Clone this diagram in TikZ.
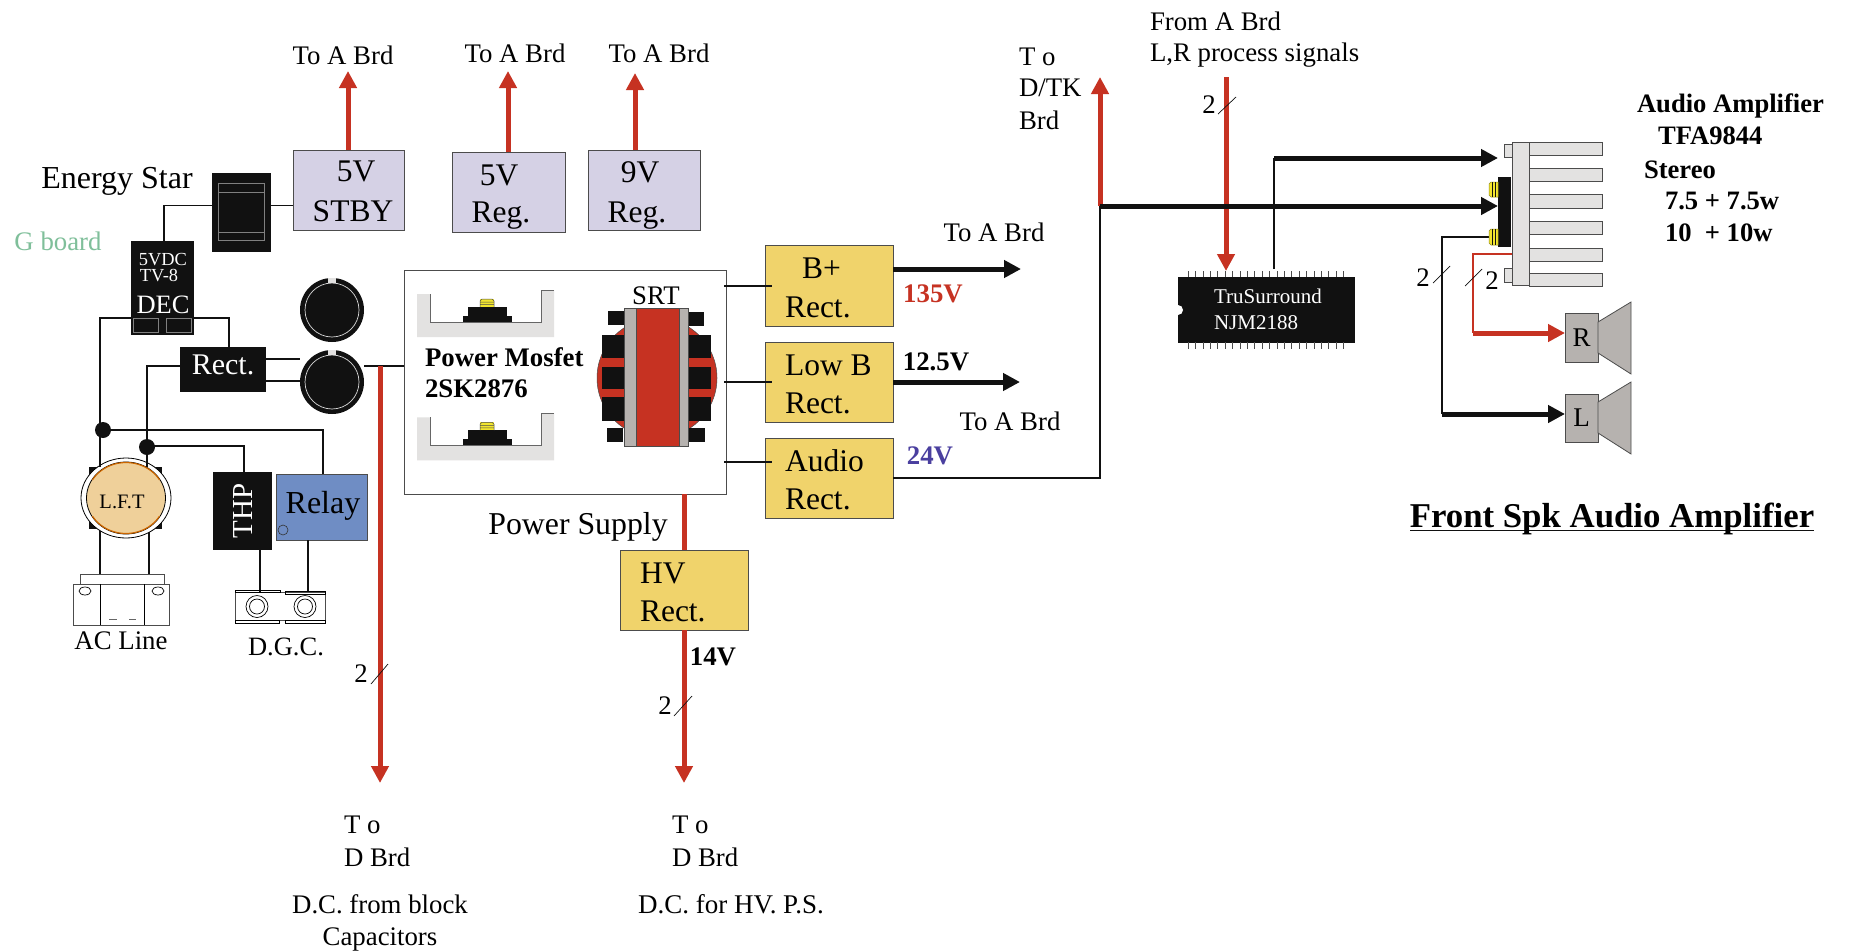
\documentclass[tikz,border=0pt]{standalone}
\usepackage{fontspec}
\setmainfont{Liberation Serif}
\usetikzlibrary{arrows.meta,calc,shapes.geometric}
\definecolor{ink}{HTML}{111111}
\definecolor{redw}{HTML}{C63222}
\definecolor{lilac}{HTML}{D5D1E5}
\definecolor{gold}{HTML}{F0D36B}
\definecolor{bluebox}{HTML}{6F8DC4}
\definecolor{graybox}{HTML}{B6B2AF}
\definecolor{lightg}{HTML}{E3E2E1}
\definecolor{tan}{HTML}{EFD09A}
\definecolor{gboard}{HTML}{7FBF9A}
\definecolor{vio}{HTML}{4A3F9F}
\definecolor{yel}{HTML}{F2E52E}
\tikzset{
  lbl/.style={inner sep=0pt,outer sep=0pt,font=\fontsize{#1}{#1}\selectfont},
  bld/.style={inner sep=0pt,outer sep=0pt,font=\bfseries\fontsize{#1}{#1}\selectfont},
  wht/.style={inner sep=0pt,outer sep=0pt,text=white,font=\fontsize{#1}{#1}\selectfont},
  wire/.style={draw=ink,line width=1.15pt},
  thinred/.style={draw=redw,line width=1.15pt},
  redthick/.style={draw=redw,line width=5pt},
  redarrow/.style={draw=redw,line width=5pt,-{Triangle[length=17pt,width=17pt,fill=redw]}},
  blkarrow/.style={draw=ink,line width=5pt,-{Triangle[length=17pt,width=17pt,fill=ink]}},
  slash/.style={draw=ink,line width=0.7pt},
  hbox/.style={draw=black!70,line width=1pt,fill=#1,inner sep=0pt,outer sep=0pt},
  blk/.style={fill=ink,draw=ink,inner sep=0pt,outer sep=0pt},
  jdot/.style={circle,fill=ink,minimum size=16pt,inner sep=0pt,outer sep=0pt},
  partl/.style={draw=black!70,line width=0.8pt,fill=lightg},
}
% \bx{name}{x1}{y1}{x2}{y2}{style}
\newcommand{\bx}[6]{\node[#6,minimum width={(#4)-(#2)},minimum height={(#5)-(#3)}] (#1) at ({((#2)+(#4))/2},{((#3)+(#5))/2}) {};}
\newcommand{\mosfetpart}{%
  \fill[lightg] (417,294) -- (430,294) -- (430,322) -- (541,322) -- (541,290) -- (554,290) -- (554,337) -- (417,337) -- cycle;
  \draw[black!60,line width=0.6pt] (430,294) -- (430,322) -- (541,322) -- (541,290) -- (554,290);
  \fill[ink] (463,316) rectangle (512,322);
  \fill[ink] (468,307) rectangle (507,316);
  \fill[yel] (480,299) rectangle (494,307);
  \draw[black!70,line width=0.5pt] (480,307) -- (480,301) -- (482,299) -- (492,299) -- (494,301) -- (494,307) (480,302) -- (494,302) (480,304.5) -- (494,304.5);
}
\begin{document}
\begin{tikzpicture}[x=1pt,y=-1pt]
\path[fill=white] (0,0) rectangle (1849,951);
\useasboundingbox (0,0) rectangle (1849,951);

% ---------- boxes placed first so connectors can name them
\bx{stby}{293}{150}{404}{230}{hbox=lilac}
\bx{regfive}{452}{152}{565}{232}{hbox=lilac}
\bx{regnine}{588}{150}{700}{230}{hbox=lilac}
\bx{estar}{212}{173}{270}{251}{blk}
\bx{dec}{131}{241}{193}{334}{blk}
\bx{rect}{180}{347}{265}{391}{blk}
\bx{thp}{213}{472}{271}{549}{blk}
\bx{relay}{276}{474}{367}{540}{hbox=bluebox}
\bx{psu}{404}{270}{726}{494}{hbox=white}
\bx{bplus}{765}{245}{893}{326}{hbox=gold}
\bx{lowb}{765}{342}{893}{422}{hbox=gold}
\bx{audio}{765}{438}{893}{518}{hbox=gold}
\bx{hv}{620}{550}{748}{630}{hbox=gold}
\bx{ic}{1178}{277}{1354}{342}{blk}

\node[circle,fill=ink,minimum size=64pt,inner sep=0pt,outer sep=0pt] (capa) at (332,310) {};
\node[circle,fill=ink,minimum size=64pt,inner sep=0pt,outer sep=0pt] (capb) at (332,382) {};
\node[jdot] (ja) at (103,430) {};
\node[jdot] (jb) at (147,447) {};
\node[ellipse,inner sep=0pt,outer sep=0pt,minimum width=90pt,minimum height=80pt] (lft) at (126,498) {};

\bx{acbar}{80}{574}{164}{584}{hbox=white}
\bx{acbox}{73}{584}{169}{625}{hbox=white}
\bx{dgc}{235}{592}{325}{620}{hbox=white}
\bx{spkr}{1565}{313}{1598}{362}{hbox=graybox}
\bx{spkl}{1565}{394}{1598}{442}{hbox=graybox}

% ---------- named ends and bends
\coordinate (tipa) at (348,71);
\coordinate (tipb) at (508,71);
\coordinate (tipc) at (635,73);
\coordinate (decl) at (100,318);
\coordinate (decr) at (229,318);
\coordinate (rectl) at (147,366);
\coordinate (relayt) at (323,430);
\coordinate (thpt) at (244,446);
\coordinate (esl) at (164,205.5);
\coordinate (tapa) at (380,366);
\coordinate (tapaend) at (380,783);
\coordinate (hvtop) at (684,494);
\coordinate (hvend) at (684,783);
\coordinate (bend) at (1021,269);
\coordinate (lend) at (1020,382);
\coordinate (audr) at (1100,478);
\coordinate (dtk) at (1100,206);
\coordinate (dtktip) at (1100,77);
\coordinate (amp) at (1498,206);
\coordinate (amptop) at (1498,158);
\coordinate (icout) at (1274,269);
\coordinate (ictop) at (1274,158);
\coordinate (srcred) at (1226,77);
\coordinate (icin) at (1226,271);
\coordinate (bl) at (1490,237);
\coordinate (blb) at (1442,237);
\coordinate (blc) at (1442,414);
\coordinate (rl) at (1512,254);
\coordinate (rlb) at (1473,254);
\coordinate (rlc) at (1473,333);
\coordinate (ula) at (1410,530);
\coordinate (ulb) at (1814,530);

% ---------- wires (thin)
\draw[wire] (stby.west |- esl) -- (esl -| estar.east);
\draw[wire] (estar.west |- esl) -- (esl) -- (esl |- dec.north);
\draw[wire] (lft.north -| decl) -- (decl) -- (decl -| dec.west);
\draw[wire] (decr -| dec.east) -- (decr) -- (decr |- rect.north);
\draw[wire] (lft.north -| rectl) -- (rectl) -- (rectl -| rect.west);
\draw[wire] (ja) -- (ja -| relayt) -- (relayt |- relay.north);
\draw[wire] (jb |- thpt) -- (thpt) -- (thpt |- thp.north);
\draw[wire] (rect.east |- 0,359) -- (capb.west |- 0,359);
\draw[wire] (rect.east |- 0,381) -- (capb.west |- 0,381);
\draw[wire] (capb.east |- tapa) -- (tapa -| psu.west);
\draw[wire] (100,510) -- (100,574);
\draw[wire] (149,510) -- (149,574);
\draw[wire] (260,549) -- (260,592);
\draw[wire] (308,540) -- (308,592);
\draw[wire] (724,286) -- (772,286);
\draw[wire] (724,382) -- (772,382);
\draw[wire] (724,462) -- (772,462);
\draw[wire] (audio.east |- audr) -- (audr) -- (dtk);
\draw[wire] (icout) -- (ictop);
\draw[wire] (bl) -- (blb) -- (blc);
\draw[thinred] (rl) -- (rlb) -- (rlc);
\draw[draw=ink,line width=1pt] (ula) -- (ulb);

% ---------- thick arrows
\draw[redarrow] (tipa |- stby.north) -- (tipa);
\draw[redarrow] (tipb |- regfive.north) -- (tipb);
\draw[redarrow] (tipc |- regnine.north) -- (tipc);
\draw[redarrow] (tapa) -- (tapaend);
\draw[redthick] (hvtop) -- (hvtop |- hv.north);
\draw[redarrow] (hvtop |- hv.south) -- (hvend);
\draw[redarrow] (dtk) -- (dtktip);
\draw[redarrow] (srcred) -- (icin);
\draw[blkarrow] (bend -| bplus.east) -- (bend);
\draw[blkarrow] (lend -| lowb.east) -- (lend);
\draw[blkarrow] (dtk) -- (amp);
\draw[blkarrow] (ictop) -- (amptop);
\draw[blkarrow] (blc) -- (spkl.west |- blc);
\draw[redarrow] (rlc) -- (spkr.west |- rlc);

% ---------- slashes
\draw[slash] (371,684) -- (388,664);
\draw[slash] (674,716) -- (692,696);
\draw[slash] (1218,114) -- (1236,97);
\draw[slash] (1433,283) -- (1450,266);
\draw[slash] (1465,286) -- (1482,269);

% ---------- details: energy star block
\draw[black!50!white,line width=0.7pt] (218,183) rectangle (264,240) (218,192) -- (264,192) (218,232) -- (264,232);
% DEC inner
\draw[black!50!white,line width=0.7pt] (133,318) rectangle (158,332) (166,318) rectangle (191,332);
% capacitors
\draw[white!85!black,line width=0.7pt] (332,310) circle (27);
\draw[white!85!black,line width=0.7pt] (332,382) circle (27);
\fill[lightg] (328,278) rectangle (336,283);
\fill[lightg] (328,350) rectangle (336,355);
% LFT
\fill[ink] (89,467) rectangle (162,529);
\draw[black,line width=0.8pt,fill=white] (126,498) ellipse (45 and 40);
\draw[black,line width=0.8pt,fill=tan] (126,498) ellipse (39.5 and 36);
\begin{scope}
  \clip (80,450) rectangle (170,480) (80,516) rectangle (170,545);
  \draw[orange!80!black,line width=1.2pt] (126,498) ellipse (39 and 35.5);
\end{scope}
\draw[wire] (100,430) -- (100,467) (147,447) -- (147,467);
% AC block
\draw[black,line width=0.8pt] (100,584) -- (100,625) (144,584) -- (144,625);
\draw[black,line width=0.7pt] (85,591) ellipse (6 and 4) (158,591) ellipse (6 and 4);
\draw[black!60,line width=0.8pt] (109,619) -- (117,619) (129,619) -- (136,619);
% DGC block
\draw[black,line width=0.7pt] (235,590) rectangle (280,592) (285,591) rectangle (325,594) (235,620) rectangle (279,623) (285,620) rectangle (325,623);
\draw[black,line width=0.7pt] (257,606.5) circle (11) (257,606.5) circle (7.5) (305,606.5) circle (11) (305,606.5) circle (7.5);
% relay hole
\draw[black!80,line width=0.6pt] (283,530) circle (5);

% mosfets
\mosfetpart
\begin{scope}[yshift=-123.3pt]\mosfetpart\end{scope}

% transformer
\fill[redw,draw=black!70,line width=0.5pt] (657,378) circle (60);
\bx{core}{624}{308}{688}{446}{hbox=graybox}
\bx{coil}{636}{308}{679}{446}{hbox=redw}
\foreach \yy/\yz in {335/358,367/389,397/421}{
  \fill[ink] (602,\yy) rectangle (624,\yz);
  \fill[ink] (689,\yy) rectangle (711,\yz);
}
\fill[ink] (608,311) rectangle (624,325);
\fill[ink] (689,312) rectangle (704,326);
\fill[ink] (607,428) rectangle (623,442);
\fill[ink] (689,428) rectangle (705,442);

% IC pins and notch
\foreach \i in {0,...,21}{
  \draw[black!70,line width=0.6pt] ({1188+\i*7.4},271) -- ({1188+\i*7.4},277);
  \draw[black!70,line width=0.6pt] ({1188+\i*7.4},342) -- ({1188+\i*7.4},349);
}
\fill[white] (1178,310) circle (5);

% heat sink
\foreach \yy/\yz in {142/155,168/181,194/208,221/234,248/261,273/286}{
  \draw[partl] (1529,\yy) rectangle (1602,\yz);
}
\draw[partl] (1504,144) rectangle (1512,157);
\draw[partl] (1504,268) rectangle (1512,282);
\draw[partl] (1512,142) rectangle (1529,285);
\fill[ink] (1498,177) rectangle (1511,247);
\foreach \yy/\yz in {182/197,229/245}{
  \draw[yel!60!black,line width=0.5pt,fill=yel] (1498,\yy) -- (1491,\yy) -- (1489,{\yy+2}) -- (1489,{\yz-2}) -- (1491,\yz) -- (1498,\yz) -- cycle;
  \draw[ink,line width=0.4pt] (1492,\yy) -- (1492,\yz) (1495,\yy) -- (1495,\yz);
}
% speakers
\draw[black!70,line width=0.8pt,fill=graybox] (1598,322) -- (1631,302) -- (1631,374) -- (1598,353) -- cycle;
\draw[black!70,line width=0.8pt,fill=graybox] (1598,402) -- (1631,382) -- (1631,454) -- (1598,433) -- cycle;

% ---------- texts
\node[lbl=26.8] (t1) at (343,55) {To A Brd};
\node[lbl=26.8] (t2) at (515,53) {To A Brd};
\node[lbl=26.8] (t3) at (659,53) {To A Brd};
\node[lbl=31.5] (t4) at (356,171) {5V};
\node[lbl=31.5] (t5) at (353,211) {STBY};
\node[lbl=31.5] (t6) at (499,175) {5V};
\node[lbl=31.5] (t7) at (501,216) {Reg.};
\node[lbl=31.5] (t8) at (640,172) {9V};
\node[lbl=31.5] (t9) at (637,216) {Reg.};
\node[lbl=32] (t10) at (117,181) {Energy Star};
\node[lbl=26.8,text=gboard] (t11) at (58,241) {G board};
\node[wht=18.4] (t12) at (163,260) {5VDC};
\node[wht=18.4] (t13) at (159,276) {TV-8};
\node[wht=26.5] (t14) at (163,305) {DEC};
\node[wht=30] (t15) at (223,365) {Rect.};
\node[lbl=20.5] (t16) at (122,502) {L.F.T};
\node[wht=29,rotate=90] (t17) at (243,511) {THP};
\node[lbl=32] (t18) at (323,506) {Relay};
\node[lbl=26.8] (t19) at (121,641) {AC Line};
\node[lbl=26.5] (t20) at (286,647) {D.G.C.};
\node[lbl=31.8] (t21) at (578,527) {Power Supply};
\node[bld=26.8,anchor=west] (t22) at (425,357) {Power Mosfet};
\node[bld=26.8,anchor=west] (t23) at (425,389) {2SK2876};
\node[lbl=26.8] (t24) at (656,296) {SRT};
\node[lbl=31.5,anchor=west] (t25) at (802,268) {B+};
\node[lbl=31.5,anchor=west] (t26) at (785,307) {Rect.};
\node[lbl=31.5,anchor=west] (t27) at (785,365) {Low B};
\node[lbl=31.5,anchor=west] (t28) at (785,403) {Rect.};
\node[lbl=31.5,anchor=west] (t29) at (785,461) {Audio};
\node[lbl=31.5,anchor=west] (t30) at (785,499) {Rect.};
\node[lbl=31.5,anchor=west] (t31) at (640,573) {HV};
\node[lbl=31.5,anchor=west] (t32) at (640,611) {Rect.};
\node[bld=26.8,text=redw] (t33) at (933,294) {135V};
\node[bld=26.8] (t34) at (936,362) {12.5V};
\node[bld=26.8,text=vio] (t35) at (930,456) {24V};
\node[lbl=26.8] (t36) at (994,232) {To A Brd};
\node[lbl=26.8] (t37) at (1010,421) {To A Brd};
\node[bld=26.8] (t38) at (713,657) {14V};
\node[lbl=26.8] (t39) at (361,674) {2};
\node[lbl=26.8] (t40) at (665,706) {2};
\node[lbl=26.8] (t41) at (1209,105) {2};
\node[lbl=26.8] (t42) at (1423,278) {2};
\node[lbl=26.8] (t43) at (1492,281) {2};
\node[lbl=26.8,anchor=west] (t44) at (344,825) {T o};
\node[lbl=26.8,anchor=west] (t45) at (344,857) {D Brd};
\node[lbl=26.8,anchor=west] (t46) at (672,825) {T o};
\node[lbl=26.8,anchor=west] (t47) at (672,857) {D Brd};
\node[lbl=26.8] (t48) at (380,904) {D.C. from block};
\node[lbl=26.8] (t49) at (380,939) {Capacitors};
\node[lbl=27] (t50) at (731,904) {D.C. for HV. P.S.};
\node[lbl=26.8,anchor=west] (t51) at (1019,57) {T o};
\node[lbl=26.8,anchor=west] (t52) at (1019,88) {D/TK};
\node[lbl=26.8,anchor=west] (t53) at (1019,120) {Brd};
\node[lbl=26.8,anchor=west] (t54) at (1150,21) {From A Brd};
\node[lbl=26.8,anchor=west] (t55) at (1150,55) {L,R process signals};
\node[wht=21,anchor=west] (t56) at (1214,296) {TruSurround};
\node[wht=21,anchor=west] (t57) at (1214,323) {NJM2188};
\node[bld=26.6,anchor=west] (t58) at (1637,106) {Audio Amplifier};
\node[bld=26.6,anchor=west] (t59) at (1658,136) {TFA9844};
\node[bld=26.6,anchor=west] (t60) at (1644,170) {Stereo};
\node[bld=26.6,anchor=west] (t61) at (1665,201) {7.5 + 7.5w};
\node[bld=26.6,anchor=west] (t62) at (1665,233) {10\ \ + 10w};
\node[lbl=27] (t63) at (spkr) {R};
\node[lbl=27] (t64) at (spkl) {L};
\node[bld=34.8,anchor=base] (t65) at (1612,527) {Front Spk Audio Amplifier};
\end{tikzpicture}
\end{document}
